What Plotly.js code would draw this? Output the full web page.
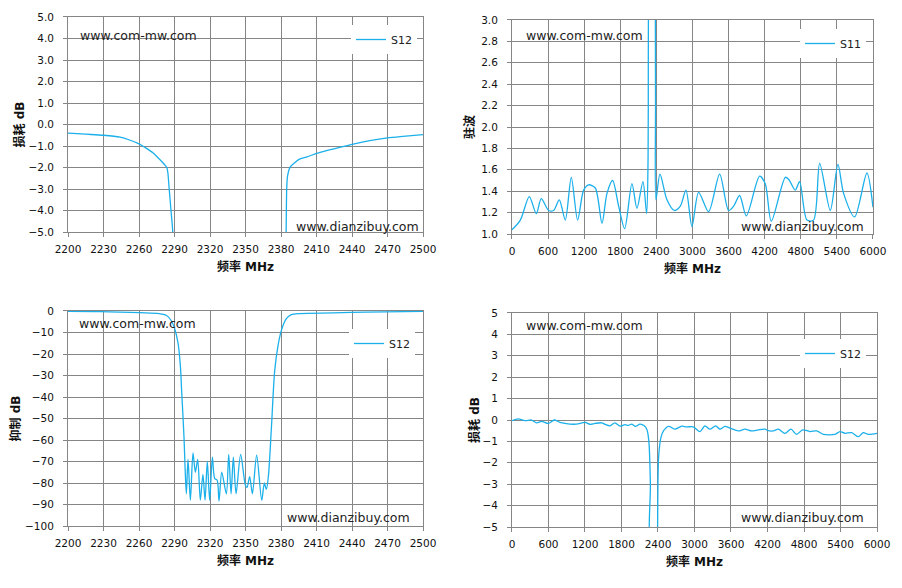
<!DOCTYPE html>
<html>
<head>
<meta charset="utf-8">
<script src="https://cdn.plot.ly/plotly-3.0.1.min.js"></script>
<style>
  body { margin: 0; background: #fff; }
  #chart { width: 902px; height: 588px; }
</style>
</head>
<body>
<div id="chart"></div>
<script>
// top left: S12 insertion loss, 2200-2500 MHz
const tlFreq = [2200, 2215, 2230, 2244, 2252, 2260, 2266, 2272, 2277, 2280.5, 2283.5, 2285.5, 2287, 2288.5, 2290, 2382,
                2384.3, 2384.8, 2385.5, 2387.7, 2392, 2396, 2402, 2413, 2427, 2440, 2455, 2470, 2483, 2500];
const tlLoss = [-0.4, -0.45, -0.5, -0.59, -0.72, -0.9, -1.1, -1.33, -1.6, -1.8, -2.0, -3.0, -4.0, -5.0, -12, -12,
                -5.0, -3.0, -2.4, -1.98, -1.75, -1.6, -1.5, -1.3, -1.1, -0.92, -0.75, -0.62, -0.55, -0.47];

// top right: S11 VSWR, 0-6000 MHz
const trFreq = [0, 139, 288, 404, 487, 609, 692, 787, 886, 986, 1091, 1191, 1274, 1385, 1496, 1579, 1673, 1773, 1873,
                1994, 2077, 2177, 2238, 2262, 2266, 2270, 2276, 2378, 2382, 2386, 2393, 2460, 2576, 2698, 2798, 2892,
                2992, 3102, 3269, 3452, 3601, 3684, 3784, 3895, 4116, 4210, 4310, 4543, 4600, 4709, 4781, 4903, 5014,
                5114, 5291, 5418, 5512, 5695, 5900, 6000];
const trVswr = [1.04, 1.13, 1.35, 1.19, 1.33, 1.22, 1.22, 1.32, 1.13, 1.53, 1.13, 1.41, 1.46, 1.43, 1.10, 1.38, 1.50, 1.26, 1.05,
                1.47, 1.24, 1.49, 1.19, 1.7, 2.6, 3.6, 6, 6, 3.6, 2.2, 1.32, 1.56, 1.32, 1.22, 1.26, 1.41,
                1.07, 1.39, 1.21, 1.56, 1.22, 1.26, 1.36, 1.17, 1.54, 1.47, 1.12, 1.53, 1.51, 1.41, 1.49, 1.13, 1.13,
                1.66, 1.22, 1.65, 1.38, 1.16, 1.57, 1.25];

// bottom left: S12 rejection, 2200-2500 MHz
const blFreq = [2200, 2227, 2261, 2277, 2283, 2287, 2290, 2293, 2295, 2296, 2298, 2299, 2300, 2301.4, 2303.4, 2305.6,
                2307.6, 2309.6, 2311.8, 2314, 2315.8, 2317.7, 2319.7, 2322, 2324, 2326, 2327.6, 2329.9, 2333.8, 2335.8,
                2337.8, 2339.7, 2342, 2345.9, 2349.9, 2351.3, 2353.5, 2355.8, 2359.4, 2363.7, 2365.9, 2367.6, 2369.3,
                2371.8, 2374.7, 2377.5, 2380.3, 2384.5, 2388.7, 2395.8, 2424, 2452, 2500];
const blRej = [-0.2, -0.3, -0.8, -1.2, -2, -4.3, -8, -15, -26, -37, -58.5, -74, -85, -69, -88, -66,
               -75, -69, -88, -76, -88, -70, -88, -68, -78, -78.6, -88.4, -75, -85, -66.7,
               -85, -68, -85, -66.7, -81, -82, -77, -85, -67, -88, -80, -83, -77,
               -55, -27.5, -16, -9, -3.6, -1.7, -1.2, -0.9, -0.5, -0.2];

// bottom right: S12 insertion loss, 0-6000 MHz
const brFreq = [0, 104, 214, 323, 405, 488, 597, 696, 789, 953, 1063, 1200, 1282, 1364, 1474, 1529, 1611, 1693, 1775,
                1857, 1912, 1967, 2033, 2104, 2175, 2219, 2250, 2275, 2285, 2392, 2394, 2411, 2450, 2493, 2575, 2679,
                2789, 2871, 2981, 3090, 3172, 3254, 3348, 3419, 3501, 3583, 3720, 3830, 3939, 4049, 4159, 4214,
                4296, 4378, 4487, 4586, 4679, 4778, 4898, 5008, 5118, 5309, 5391, 5474, 5584, 5693, 5775, 5857, 6000];
const brLoss = [-0.03, 0.05, -0.03, 0, -0.13, -0.06, -0.16, 0, -0.11, -0.19, -0.19, -0.11, -0.2, -0.16, -0.13, -0.2, -0.27, -0.13, -0.29,
                -0.22, -0.25, -0.19, -0.3, -0.19, -0.27, -0.45, -1.0, -3.0, -6, -6, -5.0, -1.7, -0.8, -0.5, -0.3, -0.43,
                -0.29, -0.32, -0.32, -0.54, -0.27, -0.43, -0.27, -0.43, -0.3, -0.38, -0.51, -0.43, -0.51, -0.46, -0.43, -0.5,
                -0.51, -0.43, -0.62, -0.43, -0.67, -0.46, -0.54, -0.51, -0.67, -0.67, -0.54, -0.62, -0.59, -0.78, -0.59, -0.67, -0.62];

const lineColor = '#1cb0ea';
const gridColor = '#868686';
const tickFont = { family: 'DejaVu Sans, sans-serif', size: 10.5, color: '#111' };
const titleFont = { family: 'DejaVu Sans, Noto Sans CJK SC, sans-serif', size: 12, color: '#111', weight: 'bold' };
const markFont = { family: 'DejaVu Sans, sans-serif', size: 12.5, color: '#222' };

function trace(x, y, name, xa, ya, leg) {
    return {
        x: x, y: y, name: name, type: 'scatter', mode: 'lines',
        xaxis: xa, yaxis: ya, legend: leg, showlegend: true,
        line: { color: lineColor, width: 1.3, shape: 'spline', smoothing: 0.8 },
        hoverinfo: 'x+y'
    };
}

function xAxis(domain, range, dtick, anchor) {
    return {
        domain: domain, range: range, dtick: dtick, tick0: range[0], anchor: anchor,
        showgrid: true, gridcolor: gridColor, gridwidth: 1,
        showline: true, linecolor: gridColor, mirror: true, zeroline: false,
        ticks: 'outside', ticklen: 4, tickcolor: gridColor, ticklabelstandoff: 3,
        tickfont: tickFont,
        title: { text: '频率 MHz', font: titleFont, standoff: 8 }
    };
}

function yAxis(domain, range, dtick, anchor, fmt, label, gap) {
    return {
        domain: domain, range: range, dtick: dtick, tick0: range[0], anchor: anchor, tickformat: fmt,
        showgrid: true, gridcolor: gridColor, gridwidth: 1,
        showline: true, linecolor: gridColor, mirror: true, zeroline: false,
        ticks: 'outside', ticklen: 4, tickcolor: gridColor, ticklabelstandoff: 7,
        tickfont: tickFont,
        title: { text: label, font: titleFont, standoff: gap }
    };
}

function legendBox(x, y) {
    return {
        x: x, y: y, xanchor: 'left', yanchor: 'top', bgcolor: '#ffffff', borderwidth: 0,
        font: { family: 'DejaVu Sans, sans-serif', size: 11, color: '#222' },
        itemwidth: 30, tracegroupgap: 0
    };
}

function mark(text, xref, yref, x, y) {
    return { text: text, xref: xref, yref: yref, x: x, y: y, showarrow: false, font: markFont,
             xanchor: 'center', yanchor: 'middle' };
}

const data = [
    trace(tlFreq, tlLoss, 'S12', 'x', 'y', 'legend'),
    trace(trFreq, trVswr, 'S11', 'x2', 'y2', 'legend2'),
    trace(blFreq, blRej, 'S12', 'x3', 'y3', 'legend3'),
    trace(brFreq, brLoss, 'S12', 'x4', 'y4', 'legend4')
];

const layout = {
    width: 902, height: 588,
    margin: { l: 0, r: 0, t: 0, b: 0 },
    paper_bgcolor: '#ffffff', plot_bgcolor: '#ffffff',
    showlegend: true,
    xaxis: xAxis([0.0754, 0.469], [2200, 2500], 30, 'y'),
    yaxis: yAxis([0.6054, 0.9711], [-5, 5], 1, 'x', '.1f', '损耗 dB', 1),
    xaxis2: xAxis([0.5676, 0.9678], [0, 6000], 600, 'y2'),
    yaxis2: yAxis([0.602, 0.966], [1, 3], 0.2, 'x2', '.1f', '驻波', 3),
    xaxis3: xAxis([0.0754, 0.469], [2200, 2500], 30, 'y3'),
    yaxis3: yAxis([0.1054, 0.4711], [-100, 0], 10, 'x3', 'd', '抑制 dB', 1),
    xaxis4: xAxis([0.5676, 0.9723], [0, 6000], 600, 'y4'),
    yaxis4: yAxis([0.1037, 0.4677], [-5, 5], 1, 'x4', 'd', '损耗 dB', 0),
    legend: legendBox(351 / 902, 1 - 25 / 588),
    legend2: legendBox(800 / 902, 1 - 29 / 588),
    legend3: legendBox(349 / 902, 1 - 329 / 588),
    legend4: legendBox(800 / 902, 1 - 339 / 588),
    annotations: [
        mark('www.com-mw.com', 'paper', 'paper', 138 / 902, 1 - 35 / 588),
        mark('www.dianzibuy.com', 'paper', 'paper', 357 / 902, 1 - 227 / 588),
        mark('www.com-mw.com', 'paper', 'paper', 584 / 902, 1 - 35 / 588),
        mark('www.dianzibuy.com', 'paper', 'paper', 802 / 902, 1 - 227 / 588),
        mark('www.com-mw.com', 'paper', 'paper', 137 / 902, 1 - 324 / 588),
        mark('www.dianzibuy.com', 'paper', 'paper', 348 / 902, 1 - 517 / 588),
        mark('www.com-mw.com', 'paper', 'paper', 584 / 902, 1 - 325 / 588),
        mark('www.dianzibuy.com', 'paper', 'paper', 802 / 902, 1 - 517 / 588)
    ]
};

Plotly.newPlot('chart', data, layout, { displayModeBar: false });
</script>
</body>
</html>
